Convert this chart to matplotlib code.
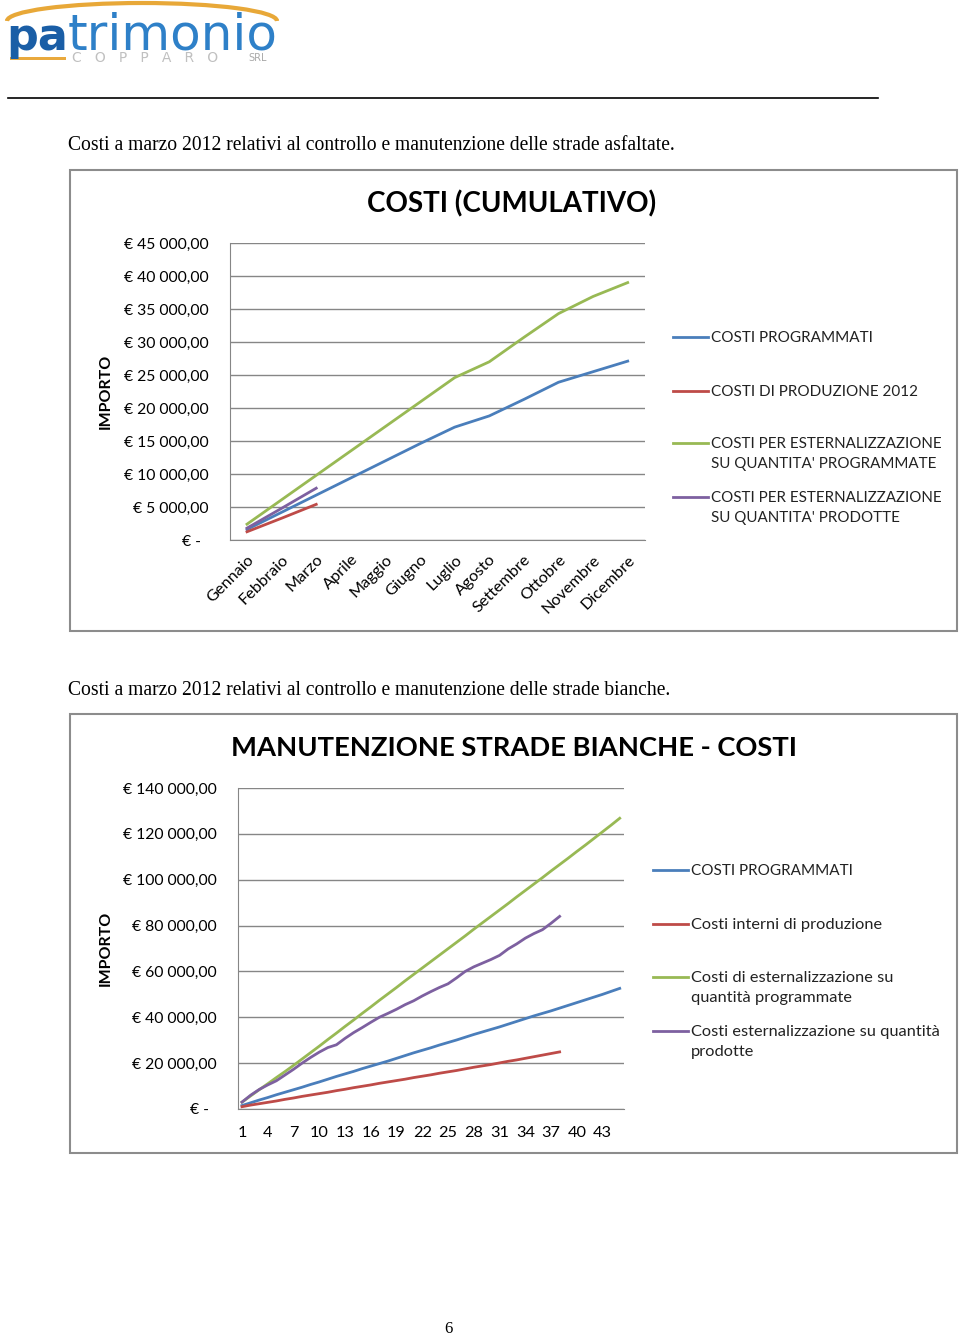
import matplotlib
matplotlib.use("Agg")
import matplotlib.pyplot as plt
from matplotlib.lines import Line2D
from matplotlib.patches import Rectangle, Arc
from matplotlib.ticker import FixedLocator, FixedFormatter

W, H = 960, 1336
plt.rcParams['font.family'] = ['Lato', 'DejaVu Sans']

# chart 1 - costi cumulativi strade asfaltate
mesi = ['Gennaio', 'Febbraio', 'Marzo', 'Aprile', 'Maggio', 'Giugno', 'Luglio',
        'Agosto', 'Settembre', 'Ottobre', 'Novembre', 'Dicembre']
costi_programmati = [1600, 4200, 6800, 9400, 12000, 14600, 17100, 18800, 21300, 23900, 25500, 27100]
costi_produzione = [1250, 3300, 5400]
ester_programmate = [2400, 6100, 9800, 13500, 17200, 20900, 24600, 27000, 30700, 34300, 36900, 39000]
ester_prodotte = [1800, 4800, 7850]
y1_ticks = [0, 5000, 10000, 15000, 20000, 25000, 30000, 35000, 40000, 45000]
y1_labels = ['€ -  ', '€ 5 000,00', '€ 10 000,00', '€ 15 000,00', '€ 20 000,00', '€ 25 000,00',
             '€ 30 000,00', '€ 35 000,00', '€ 40 000,00', '€ 45 000,00']
legenda1 = ['COSTI PROGRAMMATI', 'COSTI DI PRODUZIONE 2012',
            "COSTI PER ESTERNALIZZAZIONE\nSU QUANTITA' PROGRAMMATE",
            "COSTI PER ESTERNALIZZAZIONE\nSU QUANTITA' PRODOTTE"]

# chart 2 - strade bianche
giorni = list(range(1, 46))
bianche_programmati = [1500, 2700, 3900, 5000, 6200, 7300, 8400, 9500, 10700, 11800, 13000, 14200,
                       15300, 16400, 17600, 18700, 19800, 20900, 22100, 23300, 24500, 25600, 26700,
                       27900, 29000, 30100, 31300, 32500, 33600, 34700, 35800, 37000, 38200, 39400,
                       40600, 41700, 42800, 44000, 45200, 46400, 47600, 48800, 50000, 51300, 52600]
bianche_interni = [1000, 1700, 2300, 2900, 3500, 4200, 4800, 5500, 6100, 6700, 7300, 8000, 8600,
                   9300, 9900, 10500, 11200, 11800, 12400, 13000, 13700, 14300, 14900, 15600,
                   16200, 16800, 17500, 18200, 18800, 19400, 20100, 20800, 21400, 22100, 22800,
                   23500, 24200, 24900]
bianche_ester_prog = [3000, 5700, 8400, 11000, 13700, 16300, 19000, 21800, 24600, 27400, 30300,
                      33100, 36000, 38800, 41700, 44500, 47400, 50200, 53000, 55900, 58700, 61500,
                      64300, 67100, 69900, 72700, 75500, 78400, 81200, 84000, 86800, 89600, 92500,
                      95300, 98100, 100900, 103800, 106600, 109400, 112300, 115100, 118000, 120900,
                      123800, 126800]
bianche_ester_prod = [3000, 6000, 8500, 10500, 12300, 14800, 17300, 20000, 22500, 24800, 26800,
                      28000, 30800, 33300, 35500, 37800, 40000, 41700, 43500, 45500, 47200, 49300,
                      51200, 53000, 54600, 57200, 60000, 62000, 63600, 65200, 67000, 69800, 72000,
                      74500, 76500, 78200, 81000, 84000]
x2_ticks = list(range(1, 44, 3))
y2_ticks = [0, 20000, 40000, 60000, 80000, 100000, 120000, 140000]
y2_labels = ['€ -  ', '€ 20 000,00', '€ 40 000,00', '€ 60 000,00', '€ 80 000,00',
             '€ 100 000,00', '€ 120 000,00', '€ 140 000,00']
legenda2 = ['COSTI PROGRAMMATI', 'Costi interni di produzione',
            'Costi di esternalizzazione su\nquantità programmate',
            'Costi esternalizzazione su quantità\nprodotte']

colori = ['#4a7ebb', '#be4b48', '#98b954', '#7d60a0']
grigio = '#868686'


def box(l, t, r, b):
    return [l / W, 1 - b / H, (r - l) / W, (b - t) / H]


def fx(x):
    return x / W


def fy(y):
    return 1 - y / H


fig = plt.figure(figsize=(W / 100, H / 100), dpi=100)

# logo
fig.text(fx(6), fy(50), 'pa', fontsize=32, color='#1a5ea6', fontweight='bold',
         family='DejaVu Sans', va='baseline')
fig.text(fx(68), fy(50), 'trimonio', fontsize=36, color='#2e80c8', family='DejaVu Sans',
         va='baseline')
logo_arc = Arc((fx(142), fy(21)), fx(270), 36 / H, theta1=0, theta2=180,
               transform=fig.transFigure, color='#e8a838', lw=3)
fig.add_artist(logo_arc)
fig.add_artist(Rectangle((fx(10), fy(60)), fx(56), 3 / H, transform=fig.transFigure,
                         color='#e9a93d', lw=0))
fig.text(fx(72), fy(58), 'C   O   P   P   A   R   O', fontsize=10, color='#c0c0c0',
         va='center', family='DejaVu Sans')
fig.text(fx(248), fy(58), 'SRL', fontsize=7, color='#a8a8a8', va='center', family='DejaVu Sans')
fig.add_artist(Line2D([fx(8), fx(878)], [fy(98), fy(98)], transform=fig.transFigure,
                      color='black', lw=1.2))

# captions
fig.text(fx(68), fy(145), 'Costi a marzo 2012 relativi al controllo e manutenzione delle strade asfaltate.',
         family='Liberation Serif', fontsize=14.15, va='center')
fig.text(fx(68), fy(690), 'Costi a marzo 2012 relativi al controllo e manutenzione delle strade bianche.',
         family='Liberation Serif', fontsize=14.15, va='center')
fig.text(fx(448), fy(1329), '6', family='Liberation Serif', fontsize=12, va='center', ha='center')

# frames
for l, t, r, b in [(70, 170, 957, 631), (70, 714, 957, 1153)]:
    fig.add_artist(Rectangle((fx(l), fy(b)), fx(r - l), (b - t) / H, transform=fig.transFigure,
                             fill=False, edgecolor='#8c8c8c', lw=1.5))


def stile(ax):
    ax.grid(axis='y', color=grigio, lw=1)
    ax.set_axisbelow(True)
    for s in ['top', 'right']:
        ax.spines[s].set_visible(False)
    for s in ['left', 'bottom']:
        ax.spines[s].set_color(grigio)
    ax.tick_params(length=0)


def legenda(righe, x0, etichette, sizes):
    for (y, yt), lab, c, sz in zip(righe, etichette, colori, sizes):
        fig.add_artist(Line2D([fx(x0), fx(x0 + 35)], [fy(y), fy(y)], transform=fig.transFigure,
                              color=c, lw=2))
        fig.text(fx(x0 + 38), fy(yt), lab, fontsize=sz, va='top', linespacing=1.55,
                 color='#222222')


# chart 1
ax1 = fig.add_axes(box(229.7, 243, 645, 540))
x1 = list(range(len(mesi)))
ax1.plot(x1, costi_programmati, color=colori[0], lw=2)
ax1.plot(x1[:len(costi_produzione)], costi_produzione, color=colori[1], lw=2)
ax1.plot(x1, ester_programmate, color=colori[2], lw=2)
ax1.plot(x1[:len(ester_prodotte)], ester_prodotte, color=colori[3], lw=2)
ax1.set_xlim(-0.5, len(mesi) - 0.5)
ax1.set_ylim(0, 45000)
ax1.yaxis.set_major_locator(FixedLocator(y1_ticks))
ax1.yaxis.set_major_formatter(FixedFormatter(y1_labels))
ax1.set_xticks(x1)
ax1.set_xticklabels(mesi, rotation=45, ha='right', va='top', rotation_mode='anchor')
stile(ax1)
ax1.tick_params(axis='y', labelsize=11.3, pad=15)
ax1.tick_params(axis='x', labelsize=11.7, pad=9)
ax1.set_ylabel('IMPORTO', fontsize=11.5, fontweight='bold')
ax1.yaxis.set_label_coords((113 - 229.7) / 415.3, 0.5)
fig.text(fx(512), fy(204), 'COSTI (CUMULATIVO)', fontsize=20, fontweight='bold',
         ha='center', va='center')
legenda([(337, 331), (391, 385), (443, 437), (497, 491)], 673, legenda1, [11, 11, 10.9, 10.9])

# chart 2
ax2 = fig.add_axes(box(237.7, 788, 624, 1109))
ax2.plot(giorni, bianche_programmati, color=colori[0], lw=2)
ax2.plot(giorni[:len(bianche_interni)], bianche_interni, color=colori[1], lw=2)
ax2.plot(giorni, bianche_ester_prog, color=colori[2], lw=2)
ax2.plot(giorni[:len(bianche_ester_prod)], bianche_ester_prod, color=colori[3], lw=2)
ax2.set_xlim(0.5, len(giorni) + 0.5)
ax2.set_ylim(0, 140000)
ax2.yaxis.set_major_locator(FixedLocator(y2_ticks))
ax2.yaxis.set_major_formatter(FixedFormatter(y2_labels))
ax2.set_xticks(x2_ticks)
stile(ax2)
ax2.tick_params(axis='y', labelsize=11.3, pad=15)
ax2.tick_params(axis='x', labelsize=11.7, pad=12)
ax2.set_ylabel('IMPORTO', fontsize=11.5, fontweight='bold')
ax2.yaxis.set_label_coords((113 - 237.7) / 386.3, 0.5)
fig.text(fx(514), fy(748), 'MANUTENZIONE STRADE BIANCHE - COSTI', fontsize=19.7,
         fontweight='bold', ha='center', va='center')
legenda([(870, 864), (924, 918), (977, 971), (1031, 1025)], 653, legenda2, [11, 11.8, 11.8, 11.8])

fig.savefig('out.png', dpi=100)
